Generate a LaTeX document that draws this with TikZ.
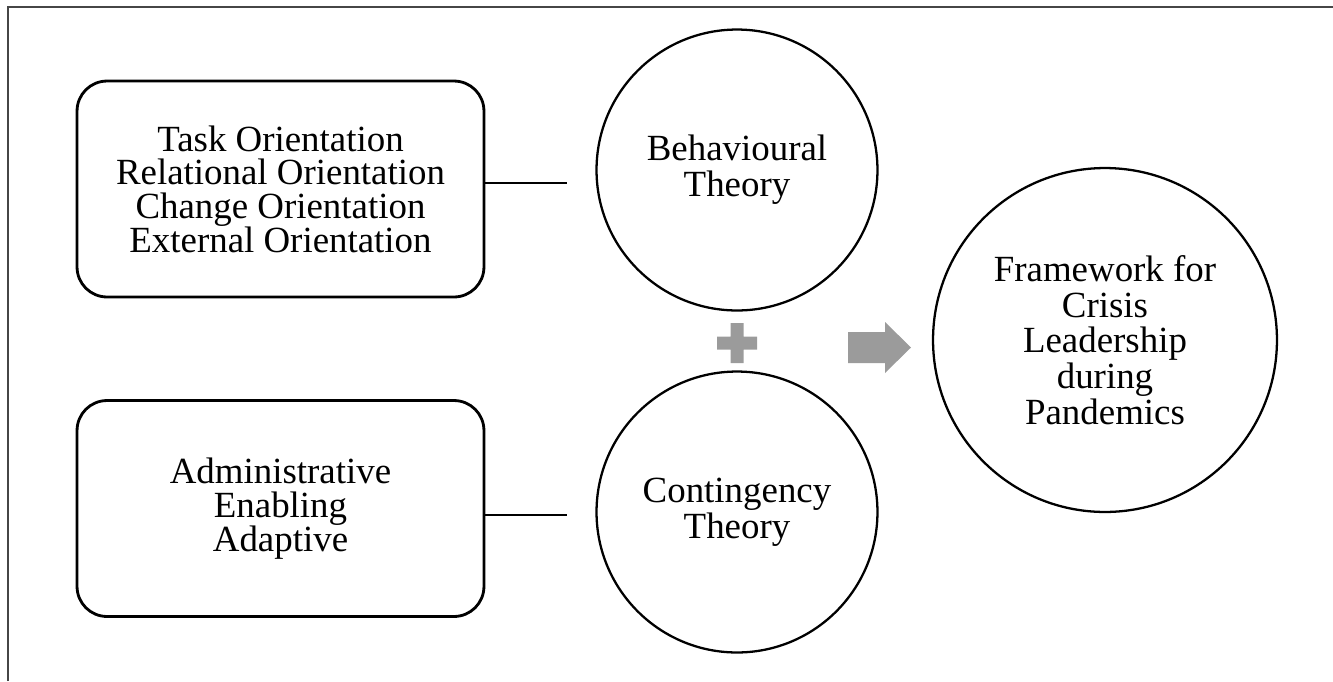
\documentclass[tikz,border=0pt]{standalone}
\usepackage{fontspec}
\setmainfont{Liberation Serif}
\usepackage{tikz}
\usetikzlibrary{shapes}

\definecolor{signgray}{RGB}{155,155,155}
\definecolor{framegray}{RGB}{70,70,70}

\begin{document}
\begin{tikzpicture}[x=0.02cm,y=-0.02cm,
	listbox/.style={rectangle,draw,line width=1.6pt,rounded corners=0.6cm,
		minimum width=8.14cm,minimum height=4.32cm,align=center,
		font=\fontsize{21}{19.2}\selectfont},
	theory/.style={circle,draw,line width=1.3pt,minimum size=5.62cm,inner sep=0pt,
		align=center,font=\fontsize{21}{20.3}\selectfont},
	link/.style={line width=1.2pt}]
	
		\useasboundingbox (0,0) rectangle (1333,681);
		\draw[framegray,line width=1.1pt] (8,681) -- (8,7) -- (1333,7);
		
		\node[listbox] (tasks) at (280.5,189) {Task Orientation\\Relational Orientation\\Change Orientation\\External Orientation};
		\node[listbox] (styles) at (280.5,508.5) {Administrative\\Enabling\\Adaptive};
		\node[theory] (behav) at (737,170) {Behavioural\\Theory};
		\node[theory] (conting) at (737,512) {Contingency\\Theory};
		\node[theory,minimum size=6.88cm] (frame) at (1105,340) {Framework for\\Crisis\\Leadership\\during\\Pandemics};
		
		\coordinate (tasksend) at (567,183);
		\coordinate (stylesend) at (567,515);
		\draw[link] (tasks.east |- tasksend) -- (tasksend);
		\draw[link] (styles.east |- stylesend) -- (stylesend);
		
		% plus sign and arrow
		\fill[signgray] (730.5,323) -- (743.5,323) -- (743.5,336.5) -- (757,336.5) -- (757,349.5)
			-- (743.5,349.5) -- (743.5,363) -- (730.5,363) -- (730.5,349.5) -- (717,349.5)
			-- (717,336.5) -- (730.5,336.5) -- cycle;
		\fill[signgray] (848,332) -- (885,332) -- (885,322) -- (911,347.5) -- (885,373)
			-- (885,363) -- (848,363) -- cycle;
		
	\end{tikzpicture}
\end{document}
